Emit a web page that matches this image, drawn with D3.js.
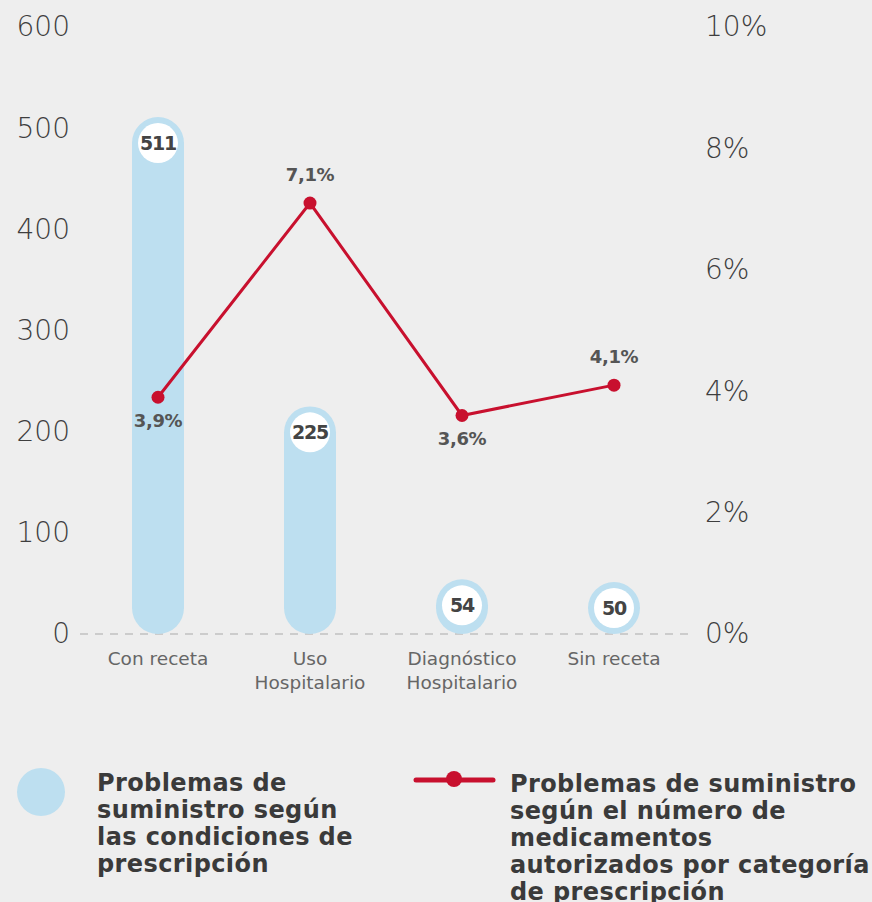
<!DOCTYPE html>
<html>
<head>
<meta charset="utf-8">
<script src="https://cdn.jsdelivr.net/npm/d3@7"></script>
<style>
  body { margin: 0; background: #eeeeee; }
  svg { display: block; font-family: "DejaVu Sans", "Noto Sans", sans-serif; }
</style>
</head>
<body>
<div id="chart"></div>
<script>
// datos
const categories = ["Con receta", "Uso Hospitalario", "Diagnóstico Hospitalario", "Sin receta"]
const categoryLines = [["Con receta"], ["Uso", "Hospitalario"], ["Diagnóstico", "Hospitalario"], ["Sin receta"]]
const problems = [511, 225, 54, 50]
const percents = [3.9, 7.1, 3.6, 4.1]
const percentLabels = ["3,9%", "7,1%", "3,6%", "4,1%"]
const leftTicks = [0, 100, 200, 300, 400, 500, 600]
const rightTicks = [0, 2, 4, 6, 8, 10]
const legendBar = ["Problemas de", "suministro según", "las condiciones de", "prescripción"]
const legendLine = ["Problemas de suministro", "según el número de", "medicamentos", "autorizados por categoría", "de prescripción"]

const width = 872
const height = 902
const margin = { top: 27, bottom: 268, left: 82, right: 182 }
const barColor = "#bddff0"
const lineColor = "#c8102e"

const svg = d3.select("#chart").append("svg").attr("width", width).attr("height", height)

const x = d3.scaleBand().domain(categories)
    .range([margin.left, width - margin.right])
    .paddingInner(0.658).paddingOuter(0.329)
const y = d3.scaleLinear().domain([0, 600]).range([height - margin.bottom, margin.top])
const y2 = d3.scaleLinear().domain([0, 10]).range([height - margin.bottom, margin.top])

// ejes
const yAxis = d3.axisLeft(y).tickValues(leftTicks).tickSize(0).tickPadding(12)
const yAxis2 = d3.axisRight(y2).tickValues(rightTicks).tickSize(0).tickPadding(15)
    .tickFormat(d => d + "%")

svg.append("g").attr("transform", `translate(${margin.left},0)`).call(yAxis)
svg.append("g").attr("transform", `translate(${width - margin.right},0)`).call(yAxis2)
svg.selectAll(".domain").remove()
svg.selectAll(".tick text")
    .attr("font-size", 28).attr("font-weight", 200).attr("fill", "#3e3e3e")
    .attr("font-family", "'DejaVu Sans', sans-serif")

// linea base
svg.append("line")
    .attr("x1", margin.left - 2).attr("x2", width - margin.right)
    .attr("y1", y(0)).attr("y2", y(0))
    .attr("stroke", "#aaa").attr("stroke-width", 1.2).attr("stroke-dasharray", "8,7")

// barras redondeadas
const bw = x.bandwidth()
const barTop = v => Math.min(y(v), y(0) - bw)
const bars = svg.append("g").selectAll("g").data(categories).join("g")
bars.append("rect")
    .attr("x", d => x(d))
    .attr("y", (d, i) => barTop(problems[i]))
    .attr("width", bw)
    .attr("height", (d, i) => y(0) - barTop(problems[i]))
    .attr("rx", bw / 2)
    .attr("fill", barColor)
bars.append("circle")
    .attr("cx", d => x(d) + bw / 2)
    .attr("cy", (d, i) => barTop(problems[i]) + bw / 2)
    .attr("r", 20)
    .attr("fill", "#fff")
bars.append("text")
    .text((d, i) => problems[i])
    .attr("x", d => x(d) + bw / 2)
    .attr("y", (d, i) => barTop(problems[i]) + bw / 2 + 7)
    .attr("text-anchor", "middle")
    .attr("font-size", 19).attr("font-weight", 700).attr("fill", "#444")
    .attr("letter-spacing", -1.2)

// etiquetas de categorias
svg.append("g").selectAll("text").data(categories).join("text")
    .attr("x", d => x(d) + bw / 2)
    .attr("y", y(0) + 31)
    .attr("text-anchor", "middle")
    .attr("font-size", 18.5).attr("fill", "#666")
    .selectAll("tspan").data((d, i) => categoryLines[i]).join("tspan")
    .attr("x", function() { return this.parentNode.getAttribute("x") })
    .attr("dy", (d, i) => i ? 24 : 0)
    .text(d => d)

// linea
const lineData = categories.map((c, i) => ({ c, v: percents[i], label: percentLabels[i] }))
svg.append("path").datum(lineData)
    .attr("fill", "none").attr("stroke", lineColor).attr("stroke-width", 3)
    .attr("d", d3.line().x(d => x(d.c) + bw / 2).y(d => y2(d.v)))
svg.append("g").selectAll("circle").data(lineData).join("circle")
    .attr("cx", d => x(d.c) + bw / 2).attr("cy", d => y2(d.v))
    .attr("r", 6.5).attr("fill", lineColor)
const below = [true, false, true, false]
svg.append("g").selectAll("text").data(lineData).join("text")
    .text(d => d.label)
    .attr("x", d => x(d.c) + bw / 2)
    .attr("y", (d, i) => below[i] ? y2(d.v) + 30 : y2(d.v) - 22)
    .attr("text-anchor", "middle")
    .attr("font-size", 18).attr("font-weight", 700).attr("fill", "#555")
    .attr("letter-spacing", -0.4)

// leyenda
const legend = svg.append("g")
legend.append("circle").attr("cx", 41).attr("cy", 792).attr("r", 24).attr("fill", barColor)
legend.append("text").attr("y", 791)
    .attr("font-size", 24).attr("font-weight", 700).attr("fill", "#3a3a3a")
    .attr("letter-spacing", 0.4)
    .selectAll("tspan").data(legendBar).join("tspan")
    .attr("x", 97).attr("dy", (d, i) => i ? 27 : 0).text(d => d)
legend.append("line").attr("x1", 416).attr("x2", 493).attr("y1", 780).attr("y2", 780)
    .attr("stroke", lineColor).attr("stroke-width", 5).attr("stroke-linecap", "round")
legend.append("circle").attr("cx", 454).attr("cy", 779).attr("r", 8).attr("fill", lineColor)
legend.append("text").attr("y", 792)
    .attr("font-size", 24).attr("font-weight", 700).attr("fill", "#3a3a3a")
    .attr("letter-spacing", 0.4)
    .selectAll("tspan").data(legendLine).join("tspan")
    .attr("x", 510).attr("dy", (d, i) => i ? 27 : 0).text(d => d)
</script>
</body>
</html>
